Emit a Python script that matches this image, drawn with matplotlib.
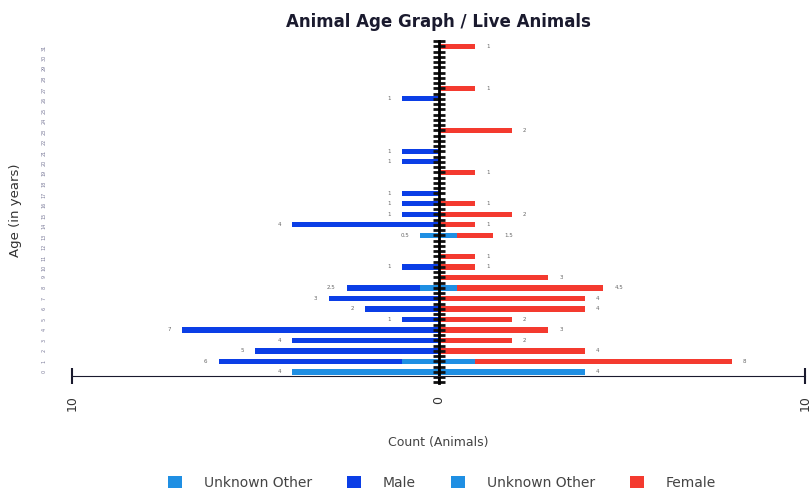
import numpy as np
import matplotlib.pyplot as plt
from matplotlib.ticker import MultipleLocator

# age rows from the bottom (0) to the top (31)
ages = np.arange(32)
unknown = [8, 2, 0, 0, 0, 0, 0, 0, 1, 0, 0, 0, 0, 1, 0, 0,
           0, 0, 0, 0, 0, 0, 0, 0, 0, 0, 0, 0, 0, 0, 0, 0]
male = [0, 5, 5, 4, 7, 1, 2, 3, 2, 0, 1, 0, 0, 0, 4, 1,
        1, 1, 0, 0, 1, 1, 0, 0, 0, 0, 1, 0, 0, 0, 0, 0]
female = [0, 7, 4, 2, 3, 2, 4, 4, 4, 3, 1, 1, 0, 1, 1, 2,
          1, 0, 0, 1, 0, 0, 0, 2, 0, 0, 0, 1, 0, 0, 0, 1]
age_labels = [str(a) for a in ages]

c_unk = '#1f8fe3'
c_male = '#0b3ee6'
c_female = '#f43a2f'

unk = np.array(unknown, dtype=float)
m = np.array(male, dtype=float)
f = np.array(female, dtype=float)
half = unk / 2

fig = plt.figure(figsize=(8.11, 4.92), dpi=100)
ax = fig.add_axes([72 / 811, 109 / 492, 733 / 811, 342 / 492])

h = 0.5
ax.barh(ages, -half, height=h, color=c_unk, label='Unknown Other')
ax.barh(ages, -m, left=-half, height=h, color=c_male, label='Male')
ax.barh(ages, half, height=h, color=c_unk, label='Unknown Other')
ax.barh(ages, f, left=half, height=h, color=c_female, label='Female')

# small count labels at the bar ends
for y, hv, mv, fv in zip(ages, half, m, f):
    if hv + mv > 0:
        ax.text(-(hv + mv) - 0.3, y, f'{hv + mv:g}', fontsize=4, color='#666666',
                ha='right', va='center')
    if hv + fv > 0:
        ax.text(hv + fv + 0.3, y, f'{hv + fv:g}', fontsize=4, color='#666666',
                ha='left', va='center')

ax.set_xlim(-10, 10)
ax.set_ylim(-1.05, 31.5)

for s in ['top', 'right']:
    ax.spines[s].set_visible(False)
ax.spines['left'].set_position(('data', 0))
ax.spines['left'].set_linewidth(2)
ax.spines['bottom'].set_position(('data', -0.4))
ax.spines['bottom'].set_color('#1a1a2e')

ax.set_yticks(ages)
ax.yaxis.set_minor_locator(MultipleLocator(0.5))
ax.tick_params(axis='y', which='both', direction='inout', length=8, width=2,
               color='#111111', labelleft=False)

ax.set_xticks([-10, 0, 10])
ax.set_xticklabels(['10', '0', '10'], rotation=90, fontsize=9, color='#333333')
ax.tick_params(axis='x', direction='inout', length=12, width=1.5, color='#1a1a2e', pad=8)

# faint age labels on the far left
sec = ax.secondary_yaxis(-0.035)
sec.set_yticks(ages)
sec.set_yticklabels(age_labels, rotation=90, fontsize=3.5, color='#7a7a99')
sec.spines['right'].set_visible(False)
sec.spines['left'].set_visible(False)
sec.tick_params(length=0, pad=0)

ax.set_title('Animal Age Graph / Live Animals', fontsize=12, fontweight='bold',
             color='#1a1a2e', pad=10)
ax.set_xlabel('Count (Animals)', fontsize=9, color='#444444', labelpad=18)
fig.text(15 / 811, 0.573, 'Age (in years)', rotation=90, fontsize=9.5,
         color='#333333', ha='center', va='center')

fig.legend(*ax.get_legend_handles_labels(), loc='center',
           bbox_to_anchor=(442 / 811, 9 / 492), ncol=4, frameon=False,
           fontsize=10, handlelength=1, handleheight=1, handletextpad=1.6,
           columnspacing=2.5, labelcolor='#444444', borderaxespad=0, borderpad=0)

fig.savefig('out.png', dpi=100)
